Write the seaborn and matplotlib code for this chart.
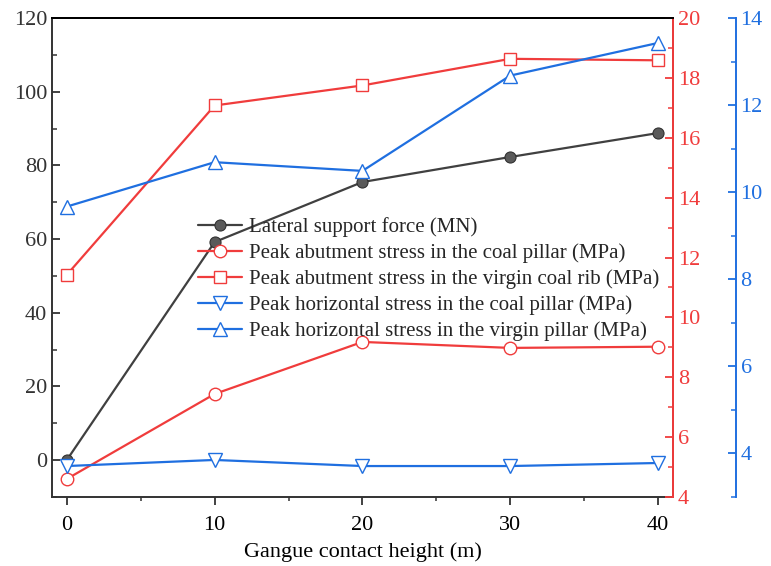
import numpy as np
import pandas as pd
import matplotlib
matplotlib.use("Agg")
import matplotlib.pyplot as plt
from matplotlib.ticker import MultipleLocator
import seaborn as sns

# ---- data ----
height = [0, 10, 20, 30, 40]
lateral_force = [0.0, 59.2, 75.5, 82.3, 88.8]
abut_coal_pillar = [4.6, 7.44, 9.18, 8.98, 9.02]
abut_virgin_rib = [11.42, 17.08, 17.75, 18.64, 18.59]
horiz_coal_pillar = [3.71, 3.85, 3.71, 3.71, 3.78]
horiz_virgin_pillar = [9.67, 10.69, 10.49, 12.68, 13.43]

labels = [
    "Lateral support force (MN)",
    "Peak abutment stress in the coal pillar (MPa)",
    "Peak abutment stress in the virgin coal rib (MPa)",
    "Peak horizontal stress in the coal pillar (MPa)",
    "Peak horizontal stress in the virgin pillar (MPa)",
]
x_label = "Gangue contact height (m)"

sns.set_style("ticks")
plt.rcParams["font.family"] = ["Liberation Serif", "DejaVu Serif"]
plt.rcParams["mathtext.fontset"] = "stix"

RED = "#f03c3c"
BLUE = "#1f6fe0"
BLACK = "#404040"
AX = "#333333"

fig = plt.figure(figsize=(7.71, 5.66), dpi=100)
ax = fig.add_axes([0.0674, 0.122, 0.8054, 0.846])
ax2 = ax.twinx()
ax3 = ax.twinx()
ax3.spines["right"].set_position(("axes", 1.101))

lw = 1.6
ms = 8
sns.lineplot(x=height, y=lateral_force, ax=ax, color=BLACK, lw=lw, marker="o",
             markersize=ms, markerfacecolor="#5a5a5a", markeredgecolor="#2e2e2e",
             label=labels[0], legend=False)
sns.lineplot(x=height, y=abut_coal_pillar, ax=ax2, color=RED, lw=lw, marker="o",
             markersize=ms + 1, markerfacecolor="white", markeredgecolor=RED,
             markeredgewidth=1.0, label=labels[1], legend=False)
sns.lineplot(x=height, y=abut_virgin_rib, ax=ax2, color=RED, lw=lw, marker="s",
             markersize=ms + 1, markerfacecolor="white", markeredgecolor=RED,
             markeredgewidth=1.0, label=labels[2], legend=False)
sns.lineplot(x=height, y=horiz_coal_pillar, ax=ax3, color=BLUE, lw=lw, marker="v",
             markersize=ms + 2, markerfacecolor="white", markeredgecolor=BLUE,
             markeredgewidth=1.0, label=labels[3], legend=False)
sns.lineplot(x=height, y=horiz_virgin_pillar, ax=ax3, color=BLUE, lw=lw, marker="^",
             markersize=ms + 2, markerfacecolor="white", markeredgecolor=BLUE,
             markeredgewidth=1.0, label=labels[4], legend=False)

# limits
ax.set_xlim(-1, 41)
ax.set_ylim(-10, 120)
ax2.set_ylim(4, 20)
ax3.set_ylim(3, 14)

# ticks
ax.xaxis.set_major_locator(MultipleLocator(10))
ax.xaxis.set_minor_locator(MultipleLocator(5))
ax.yaxis.set_major_locator(MultipleLocator(20))
ax.yaxis.set_minor_locator(MultipleLocator(10))
ax2.yaxis.set_major_locator(MultipleLocator(2))
ax2.yaxis.set_minor_locator(MultipleLocator(1))
ax3.yaxis.set_major_locator(MultipleLocator(2))
ax3.yaxis.set_minor_locator(MultipleLocator(1))

fs = 16
ax.tick_params(axis="x", which="major", direction="out", length=5.5, width=1.3,
               colors=AX, labelcolor="black", labelsize=fs, top=False, pad=8)
ax.tick_params(axis="x", which="minor", direction="out", length=3, width=1.1,
               colors=AX, top=False)
ax.tick_params(axis="y", which="major", direction="in", length=6, width=1.3,
               colors=AX, labelcolor="#333333", labelsize=fs)
ax.tick_params(axis="y", which="minor", direction="in", length=3.5, width=1.1, colors=AX)

ax2.tick_params(axis="y", which="major", direction="in", length=6, width=1.3,
                colors=RED, labelsize=fs)
ax2.tick_params(axis="y", which="minor", direction="in", length=3.5, width=1.1, colors=RED)
ax3.tick_params(axis="y", which="major", direction="in", length=6, width=1.3,
                colors=BLUE, labelsize=fs)
ax3.tick_params(axis="y", which="minor", direction="in", length=3.5, width=1.1, colors=BLUE)

# spines
for a in (ax, ax2, ax3):
    for s in a.spines.values():
        s.set_linewidth(1.4)
ax.spines["left"].set_color(AX)
ax.spines["bottom"].set_color(AX)
ax.spines["top"].set_color("black")
ax2.spines["top"].set_color("black")
ax3.spines["top"].set_visible(False)
ax2.spines["right"].set_color(RED)
ax3.spines["right"].set_color(BLUE)
ax3.spines["left"].set_visible(False)
ax3.spines["bottom"].set_visible(False)
ax2.spines["left"].set_visible(False)
ax2.spines["bottom"].set_visible(False)

ax.set_xlabel(x_label, fontsize=fs, color="black", labelpad=5.5)
ax.set_ylabel("")
ax2.set_ylabel("")
ax3.set_ylabel("")

# legend
handles, labs = [], []
for a in (ax, ax2, ax3):
    h, l = a.get_legend_handles_labels()
    handles += h
    labs += l
leg = ax3.legend(handles, labs, loc="upper left", bbox_to_anchor=(0.235, 0.584),
                 frameon=False, fontsize=15, handlelength=2.1, handletextpad=0.33,
                 labelspacing=0.3, borderaxespad=0, borderpad=0)

fig.savefig("out.png", dpi=100)
